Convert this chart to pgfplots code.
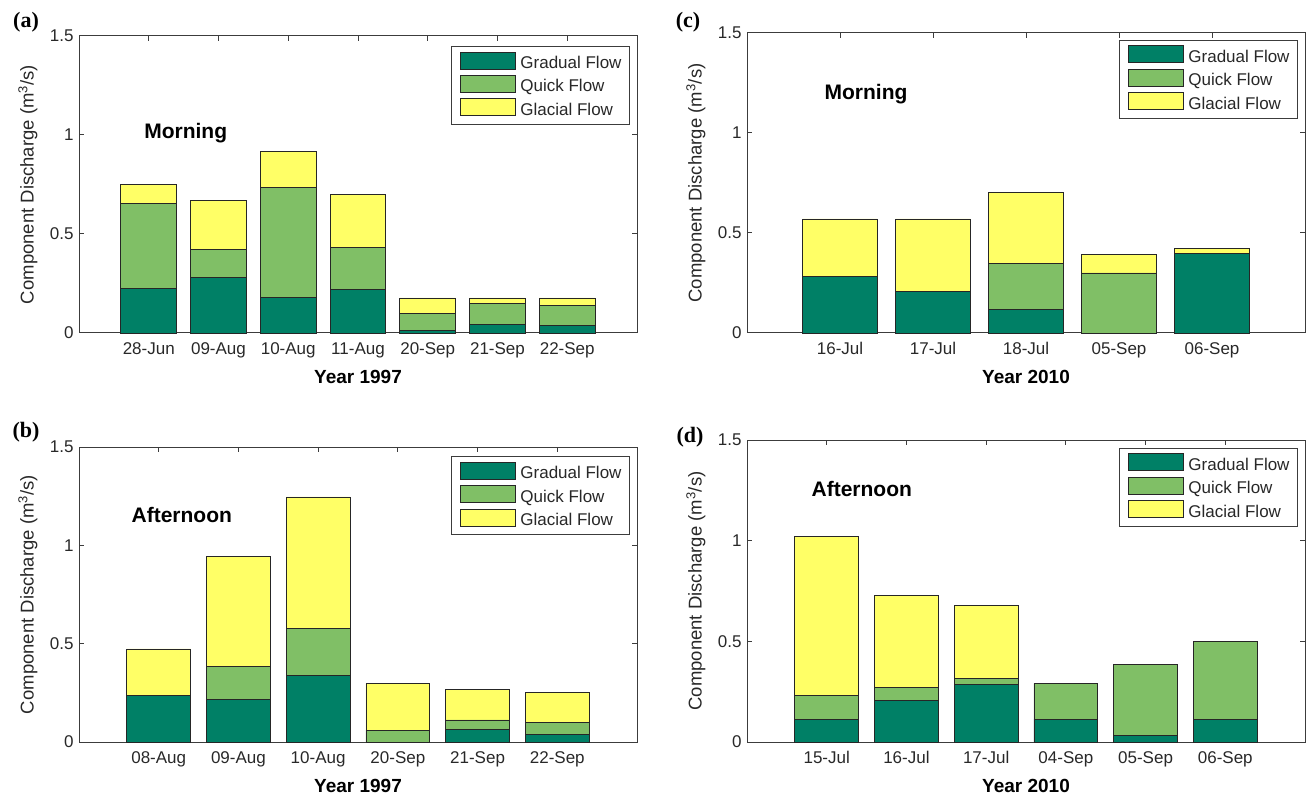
\documentclass[border=0pt]{standalone}
\usepackage{pgfplots}
\pgfplotsset{compat=1.18}
\usepackage{fontspec}
\setmainfont{Liberation Sans}
\newfontfamily\serifpanel{Liberation Serif}
\definecolor{cgrad}{RGB}{0,128,102}
\definecolor{cquick}{RGB}{128,191,102}
\definecolor{cglac}{RGB}{255,255,102}
\definecolor{axgray}{RGB}{60,60,60}
\definecolor{lblgray}{RGB}{40,40,40}
\newcommand\tickfont{\fontsize{17}{20}\selectfont}
\newcommand\labfont{\fontsize{18.5}{21}\selectfont}
\newcommand\xlabfont{\fontsize{19}{22}\selectfont\bfseries}
\newcommand\annfont{\fontsize{21}{24}\selectfont\bfseries}
\pgfplotsset{
  panel/.style={
    width=558pt, scale only axis,
    xmin=0, ymin=0, ymax=1.5,
    ybar stacked, bar width=0.8,
    ytick={0,0.5,1,1.5}, yticklabels={0,0.5,1,1.5},
    tick align=inside, xtick pos=both, ytick pos=both,
    major tick length=5pt,
    axis line style={draw=axgray, line width=1pt},
    every tick/.style={axgray, line width=1pt},
    tick label style={font=\tickfont, text=lblgray},
    xticklabel style={yshift=-6pt},
    yticklabel style={xshift=-2pt},
    ylabel={Component Discharge (m\textsuperscript{3}/s)},
    ylabel style={at={(axis description cs:-0.0914,0.5)}, anchor=center, font=\labfont, text=lblgray},
    xlabel style={at={(axis description cs:0.5,0)}, anchor=north, yshift=-34pt, font=\xlabfont},
    clip=false,
    legend cell align=left,
    legend image code/.code={\draw[##1,/tikz/.cd] (0pt,-4.5pt) rectangle (55pt,12.5pt);},
    legend style={anchor=north east, draw=axgray, line width=1pt, fill=white,
      font=\tickfont, text=lblgray, inner xsep=8pt, inner ysep=5pt,
      row sep=2.5pt, column sep=5pt,
      nodes={inner sep=0pt, text height=12pt, text depth=4pt}},
  },
  bg/.style={fill=cgrad, draw=black!85, line width=0.9pt},
  bq/.style={fill=cquick, draw=black!85, line width=0.9pt},
  bl/.style={fill=cglac, draw=black!85, line width=0.9pt},
}
\begin{document}
\begin{tikzpicture}[x=1pt,y=1pt]
\useasboundingbox (0,0) rectangle (1309,796);

% (a)
\begin{axis}[panel, at={(79pt,463pt)}, anchor=south west, height=297pt,
  xmax=8, xtick={1,...,7},
  xticklabels={28-Jun,09-Aug,10-Aug,11-Aug,20-Sep,21-Sep,22-Sep},
  xlabel={Year 1997},
  legend style={at={(0.9875,0.966)}}]
\addplot[bg] coordinates {(1,0.223) (2,0.280) (3,0.179) (4,0.218) (5,0.015) (6,0.044) (7,0.039)};
\addplot[bq] coordinates {(1,0.431) (2,0.141) (3,0.554) (4,0.213) (5,0.085) (6,0.106) (7,0.101)};
\addplot[bl] coordinates {(1,0.098) (2,0.246) (3,0.186) (4,0.270) (5,0.077) (6,0.027) (7,0.037)};
\legend{Gradual Flow, Quick Flow, Glacial Flow}
\node[font=\annfont] at (axis cs:1.53,1.01) {Morning};
\end{axis}

% (b)
\begin{axis}[panel, at={(79pt,54pt)}, anchor=south west, height=295pt,
  xmax=7, xtick={1,...,6},
  xticklabels={08-Aug,09-Aug,10-Aug,20-Sep,21-Sep,22-Sep},
  xlabel={Year 1997},
  legend style={at={(0.9875,0.969)}}]
\addplot[bg] coordinates {(1,0.237) (2,0.214) (3,0.337) (4,0) (5,0.066) (6,0.039)};
\addplot[bq] coordinates {(1,0) (2,0.169) (3,0.238) (4,0.061) (5,0.046) (6,0.061)};
\addplot[bl] coordinates {(1,0.236) (2,0.559) (3,0.671) (4,0.237) (5,0.157) (6,0.153)};
\legend{Gradual Flow, Quick Flow, Glacial Flow}
\node[font=\annfont] at (axis cs:1.29,1.155) {Afternoon};
\end{axis}

% (c)
\begin{axis}[panel, at={(747pt,463pt)}, anchor=south west, height=300pt,
  xmax=6, xtick={1,...,5},
  xticklabels={16-Jul,17-Jul,18-Jul,05-Sep,06-Sep},
  xlabel={Year 2010},
  legend style={at={(0.9875,0.977)}}]
\addplot[bg] coordinates {(1,0.283) (2,0.207) (3,0.118) (4,0) (5,0.399)};
\addplot[bq] coordinates {(1,0) (2,0) (3,0.231) (4,0.300) (5,0)};
\addplot[bl] coordinates {(1,0.287) (2,0.363) (3,0.353) (4,0.094) (5,0.022)};
\legend{Gradual Flow, Quick Flow, Glacial Flow}
\node[font=\annfont] at (axis cs:1.28,1.195) {Morning};
\end{axis}

% (d)
\begin{axis}[panel, at={(747pt,54pt)}, anchor=south west, height=302pt,
  xmax=7, xtick={1,...,6},
  xticklabels={15-Jul,16-Jul,17-Jul,04-Sep,05-Sep,06-Sep},
  xlabel={Year 2010},
  legend style={at={(0.9875,0.974)}}]
\addplot[bg] coordinates {(1,0.114) (2,0.208) (3,0.286) (4,0.114) (5,0.033) (6,0.114)};
\addplot[bq] coordinates {(1,0.116) (2,0.061) (3,0.028) (4,0.177) (5,0.350) (6,0.387)};
\addplot[bl] coordinates {(1,0.791) (2,0.457) (3,0.362) (4,0) (5,0) (6,0)};
\legend{Gradual Flow, Quick Flow, Glacial Flow}
\node[font=\annfont] at (axis cs:1.44,1.258) {Afternoon};
\end{axis}

\node[font=\fontsize{22}{24}\selectfont\serifpanel\bfseries] at (26,774) {(a)};
\node[font=\fontsize{22}{24}\selectfont\serifpanel\bfseries] at (26,364) {(b)};
\node[font=\fontsize{22}{24}\selectfont\serifpanel\bfseries] at (688,774) {(c)};
\node[font=\fontsize{22}{24}\selectfont\serifpanel\bfseries] at (690,359) {(d)};
\end{tikzpicture}
\end{document}
